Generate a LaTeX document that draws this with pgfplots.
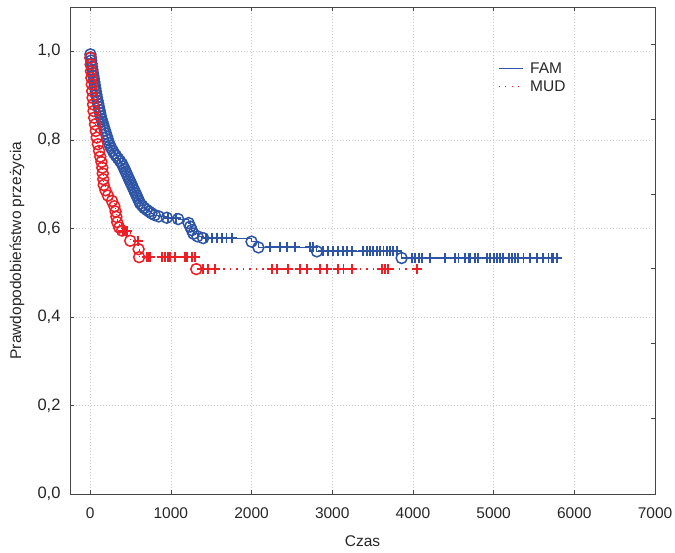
\documentclass[border=0pt]{standalone}
\usepackage{pgfplots}
\pgfplotsset{compat=1.18}
\usepackage{fontspec}
\setmainfont{Liberation Sans}
\definecolor{famblue}{RGB}{46,84,166}
\definecolor{mudred}{RGB}{236,30,38}
\definecolor{axgray}{RGB}{70,70,70}
\begin{document}
\begin{tikzpicture}
\begin{axis}[
  scale only axis, width=585pt, height=487pt,
  xmin=-250, xmax=7000, ymin=0, ymax=1.1,
  xtick={0,1000,...,7000}, ytick={0,0.2,...,1.0},
  xtick pos=both, ytick pos=left, tick align=inside,
  major tick length=4pt,
  every tick/.style={axgray, line width=0.6pt},
  axis line style={axgray, line width=0.9pt},
  grid=major, major grid style={gray!40, line width=0.5pt, dash pattern=on 0.6pt off 2.4pt},
  /pgf/number format/assume math mode=true,
  xticklabel style={font=\fontsize{15.5}{17}\selectfont, yshift=-10pt, text=black!85},
  yticklabel style={font=\fontsize{16.5}{18}\selectfont, xshift=-6pt, text=black!85, /pgf/number format/.cd, use comma, fixed, fixed zerofill, precision=1},
  scaled x ticks=false,
  xticklabel={\pgfmathprintnumber[fixed, precision=0, set thousands separator={}]{\tick}},
  xlabel={Czas}, ylabel={Prawdopodobieństwo przeżycia},
  xlabel style={at={(axis description cs:0.5,-0.0965)}, anchor=center, font=\fontsize{15.5}{17}\selectfont, text=black!85},
  ylabel style={at={(axis description cs:-0.0906,0.5)}, anchor=center, font=\fontsize{15.5}{17}\selectfont, text=black!85},
  legend style={draw=none, fill=none, at={(rel axis cs:0.731,0.89)}, anchor=north west, font=\fontsize{15.5}{17}\selectfont, inner sep=0pt, row sep=1.5pt, column sep=5pt, text=black!85},
  legend cell align=left,
  legend image code/.code={\draw[#1] (0pt,0pt) -- (24pt,0pt);},
  clip=false,
]
\coordinate (bl) at (rel axis cs:0,0);
\coordinate (tr) at (rel axis cs:1,1);
% FAM step line
\addplot[famblue, line width=1.1pt, const plot, forget plot] coordinates {
(0,1.0)(3,0.993)(8,0.986)(12,0.979)(17,0.972)(22,0.965)(28,0.958)(34,0.951)(40,0.944)(46,0.937)(52,0.930)(58,0.923)(64,0.916)(70,0.909)(77,0.902)(84,0.895)(92,0.888)(100,0.881)(108,0.874)(116,0.867)(124,0.860)(132,0.853)(140,0.847)(150,0.841)(160,0.835)(172,0.828)(184,0.821)(196,0.814)(208,0.807)(220,0.800)(232,0.793)(245,0.787)(262,0.781)(280,0.775)(300,0.769)(320,0.764)(345,0.758)(370,0.752)(393,0.746)(410,0.740)(425,0.734)(440,0.728)(455,0.722)(470,0.716)(485,0.710)(500,0.704)(515,0.698)(530,0.692)(545,0.686)(560,0.680)(575,0.674)(590,0.668)(605,0.662)(620,0.656)(645,0.651)(670,0.646)(700,0.642)(730,0.638)(760,0.634)(800,0.630)(850,0.627)(950,0.624)(1090,0.621)(1220,0.612)(1240,0.604)(1260,0.596)(1280,0.588)(1330,0.582)(1400,0.578)(2000,0.570)(2085,0.557)(2810,0.548)(3860,0.533)(5780,0.533)
};
% FAM events
\addplot[famblue, only marks, mark=o, mark size=5.5pt, line width=1.5pt, forget plot] coordinates {
(3,0.993)(8,0.986)(12,0.979)(17,0.972)(22,0.965)(28,0.958)(34,0.951)(40,0.944)(46,0.937)(52,0.930)(58,0.923)(64,0.916)(70,0.909)(77,0.902)(84,0.895)(92,0.888)(100,0.881)(108,0.874)(116,0.867)(124,0.860)(132,0.853)(140,0.847)(150,0.841)(160,0.835)(172,0.828)(184,0.821)(196,0.814)(208,0.807)(220,0.800)(232,0.793)(245,0.787)(262,0.781)(280,0.775)(300,0.769)(320,0.764)(345,0.758)(370,0.752)(393,0.746)(410,0.740)(425,0.734)(440,0.728)(455,0.722)(470,0.716)(485,0.710)(500,0.704)(515,0.698)(530,0.692)(545,0.686)(560,0.680)(575,0.674)(590,0.668)(605,0.662)(620,0.656)(645,0.651)(670,0.646)(700,0.642)(730,0.638)(760,0.634)(800,0.630)(850,0.627)(950,0.624)(1090,0.621)(1220,0.612)(1240,0.604)(1260,0.596)(1280,0.588)(1330,0.582)(1400,0.578)(2000,0.570)(2085,0.557)(2810,0.548)(3860,0.533)
};
% FAM censored
\addplot[famblue, only marks, mark=+, mark size=5pt, line width=1.9pt, forget plot] coordinates {
(960,0.624)(1065,0.624)
(1430,0.578)(1510,0.578)(1570,0.578)(1630,0.578)(1690,0.578)(1755,0.578)
(2230,0.557)(2355,0.557)(2440,0.557)(2540,0.557)(2725,0.557)(2765,0.557)
(2890,0.548)(2950,0.548)(3010,0.548)(3075,0.548)(3135,0.548)(3180,0.548)(3245,0.548)(3385,0.548)(3430,0.548)(3470,0.548)(3510,0.548)(3555,0.548)(3595,0.548)(3635,0.548)(3680,0.548)(3720,0.548)(3755,0.548)(3800,0.548)
(3985,0.533)(4030,0.533)(4070,0.533)(4110,0.533)(4215,0.533)(4400,0.533)(4525,0.533)(4565,0.533)(4645,0.533)(4690,0.533)(4710,0.533)(4770,0.533)(4810,0.533)(4915,0.533)(4955,0.533)(5000,0.533)(5040,0.533)(5080,0.533)(5120,0.533)(5185,0.533)(5225,0.533)(5265,0.533)(5305,0.533)(5370,0.533)(5450,0.533)(5535,0.533)(5615,0.533)(5680,0.533)(5720,0.533)(5740,0.533)(5780,0.533)
};
% MUD step line
\addplot[mudred, line width=1.3pt, dash pattern=on 1.3pt off 5.2pt, const plot, forget plot] coordinates {
(0,1.0)(2,0.985)(6,0.970)(10,0.955)(15,0.940)(20,0.925)(25,0.910)(30,0.895)(36,0.880)(42,0.865)(50,0.850)(60,0.835)(70,0.820)(82,0.805)(95,0.790)(110,0.775)(125,0.762)(140,0.750)(150,0.737)(156,0.724)(162,0.711)(168,0.698)(190,0.686)(220,0.674)(270,0.662)(300,0.650)(315,0.638)(325,0.626)(335,0.614)(360,0.602)(395,0.595)(496,0.572)(600,0.553)(607,0.535)(1315,0.508)(4050,0.508)
};
% MUD events
\addplot[mudred, only marks, mark=o, mark size=5.5pt, line width=1.5pt, forget plot] coordinates {
(2,0.985)(6,0.970)(10,0.955)(15,0.940)(20,0.925)(25,0.910)(30,0.895)(36,0.880)(42,0.865)(50,0.850)(60,0.835)(70,0.820)(82,0.805)(95,0.790)(110,0.775)(125,0.762)(140,0.750)(150,0.737)(156,0.724)(162,0.711)(168,0.698)(190,0.686)(220,0.674)(270,0.662)(300,0.650)(315,0.638)(325,0.626)(335,0.614)(360,0.602)(395,0.595)(496,0.572)(600,0.553)(607,0.535)(1315,0.508)
};
% MUD censored
\addplot[mudred, only marks, mark=+, mark size=5pt, line width=1.9pt, forget plot] coordinates {
(410,0.595)(425,0.595)(440,0.595)(455,0.595)(590,0.572)
(700,0.535)(720,0.535)(745,0.535)(890,0.535)(930,0.535)(970,0.535)(990,0.535)(1050,0.535)(1180,0.535)(1200,0.535)(1260,0.535)(1300,0.535)
(1400,0.508)(1460,0.508)(1550,0.508)(2250,0.508)(2315,0.508)(2455,0.508)(2600,0.508)(2685,0.508)(2850,0.508)(2935,0.508)(3075,0.508)(3140,0.508)(3240,0.508)(3615,0.508)(3655,0.508)(3695,0.508)(4050,0.508)
};
\addlegendimage{famblue, line width=1.2pt}
\addlegendentry{FAM}
\addlegendimage{mudred, line width=1.4pt, dash pattern=on 1.3pt off 5.2pt}
\addlegendentry{MUD}
\end{axis}
\begin{axis}[
  scale only axis, width=585pt, height=487pt,
  xmin=-250, xmax=7000, ymin=0, ymax=1.1,
  axis x line=none, axis y line*=right,
  ytick={0.171,0.340,0.509,0.678,0.847,1.016}, yticklabels={},
  tick align=inside, major tick length=4pt,
  every tick/.style={axgray, line width=0.6pt},
  axis line style={axgray, line width=0.9pt},
]
\end{axis}
\pgfresetboundingbox
\path ([shift={(-70pt,-59pt)}]bl) rectangle ([shift={(20pt,7pt)}]tr);
\end{tikzpicture}
\end{document}
